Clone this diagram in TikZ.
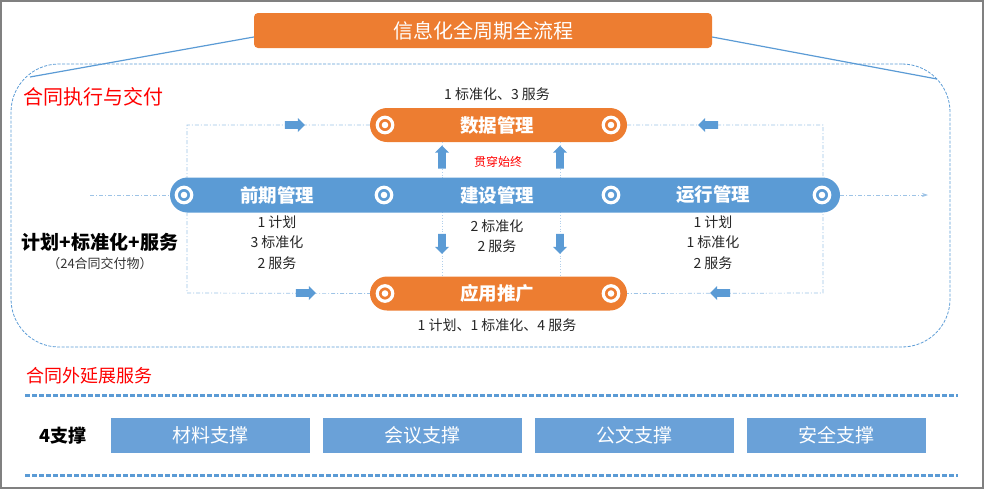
\documentclass[tikz,border=0pt]{standalone}
\usepackage{fontspec}
\setmainfont{Noto Sans CJK SC}
\usetikzlibrary{shapes.misc}
\usetikzlibrary{shapes.arrows}
\usetikzlibrary{positioning}
\usetikzlibrary{arrows.meta}
\definecolor{barblue}{HTML}{5B9BD5}
\definecolor{barorange}{HTML}{ED7D31}
\definecolor{boxblue}{HTML}{6AA1D8}
\definecolor{lineblue}{HTML}{9DC3E6}
\definecolor{framegray}{HTML}{808080}
\tikzset{
    titlebox/.style = {rectangle, rounded corners=4pt, fill=barorange, minimum width=458pt, minimum height=35pt, text=white, font=\fontsize{20}{24}\selectfont},
    bluebar/.style = {rounded rectangle, fill=barblue, minimum height=35pt, inner sep=0pt},
    orangebar/.style = {rounded rectangle, fill=barorange, minimum width=257pt, minimum height=34pt, inner sep=0pt},
    stage/.style = {text=white, font=\fontsize{18.5}{22}\selectfont\bfseries},
    ring/.style = {circle, draw=white, line width=3.2pt, minimum size=15.5pt, inner sep=0pt,
                   path picture={\fill[white] (path picture bounding box.center) circle (3.3pt);}},
    note/.style = {font=\fontsize{14}{20.5}\selectfont, text=black!85, align=center},
    redtitle/.style = {text=red, font=\fontsize{20}{24}\selectfont},
    contractframe/.style = {rectangle, rounded corners=48pt, draw=barblue, line width=0.8pt, dash pattern=on 3pt off 1.5pt},
    flow/.style = {draw=lineblue, line width=0.7pt, dash pattern=on 4pt off 2pt on 1pt off 2pt}, % loop
    thru/.style = {draw=lineblue!80, line width=0.7pt, dotted}, % between bars
    fatarrow/.style = {single arrow, fill=barblue, minimum height=20pt, inner xsep=0pt, inner ysep=3.6pt, single arrow head extend=3.2pt},
    vertarrow/.style = {single arrow, fill=barblue, minimum height=20pt, inner xsep=3.6pt, inner ysep=0pt, single arrow head extend=3.2pt},
    tie/.style = {draw=barblue, line width=1.2pt},
    lane/.style = {draw=barblue, line width=3pt, dash pattern=on 5pt off 2pt},
    supportbox/.style = {rectangle, fill=boxblue, minimum width=199pt, minimum height=35pt, text=white, font=\fontsize{19}{22}\selectfont}
}
\begin{document}
\begin{tikzpicture}[x=1pt,y=-1pt]
\useasboundingbox (0,0) rectangle (985,490);
\draw[framegray, line width=2.5pt] (1,1) rectangle (983,488);
%
\node[titlebox] (title) at (483,30.5) {信息化全周期全流程};
\node[contractframe, minimum width=939pt, minimum height=283pt] (contract) at (480.5,205.5) {};
\coordinate (tieL) at (30,77);
\coordinate (tieR) at (937,79);
\draw[tie] ([yshift=-6.5pt]title.west) -- (tieL);
\draw[tie] ([yshift=-6.5pt]title.east) -- (tieR);
\node[redtitle, anchor=west] (inside) at (20,97) {合同执行与交付};
%
\coordinate (inL) at (90,195);
\coordinate (outR) at (928,195);
\coordinate (loopTL) at (187,125);
\coordinate (loopBL) at (187,293);
\coordinate (loopTR) at (823,125);
\coordinate (loopBR) at (823,293);
\coordinate (colA) at (442,0);
\coordinate (colB) at (560,0);
%
\node[orangebar] (data) at (498.5,125) {};
\node[orangebar] (app) at (498.5,293.5) {};
\draw[flow] (data.west) -- (loopTL) -- (loopBL) -- (app.west);
\draw[flow] (data.east) -- (loopTR) -- (loopBR) -- (app.east);
\draw[thru] (colA |- data.south) -- (colA |- app.north);
\draw[thru] (colB |- data.south) -- (colB |- app.north);
\draw[flow] (inL) -- (170,195);
\node[bluebar, minimum width=670pt] (lifecycle) at (505,195) {};
\draw[flow, -{Stealth[length=6pt,width=4pt]}] (lifecycle.east) -- (outR);
%
\node[stage] (early) at (277,195) {前期管理};
\node[stage] (build) at (497,195) {建设管理};
\node[stage] (operate) at (713,195) {运行管理};
\node[stage] (datatxt) at (497,125) {数据管理};
\node[stage] (apptxt) at (497,293.5) {应用推广};
%
\node[ring] (r1) at (184,195) {};
\node[ring] (r2) at (384,195) {};
\node[ring] (r3) at (611,195) {};
\node[ring] (r4) at (822,195) {};
\node[ring] (r5) at (385,125) {};
\node[ring] (r6) at (611,125) {};
\node[ring] (r7) at (385,293.5) {};
\node[ring] (r8) at (611,293.5) {};
%
\node[fatarrow] (a1) at (293,125) {};
\node[fatarrow, shape border rotate=180] (a2) at (710,125) {};
\node[fatarrow] (a3) at (304,293) {};
\node[fatarrow, shape border rotate=180] (a4) at (722,293) {};
\node[vertarrow, shape border rotate=90, minimum height=23pt] (a5) at (442,159) {};
\node[vertarrow, shape border rotate=90, minimum height=23pt] (a6) at (560,159) {};
\node[vertarrow, shape border rotate=270] (a7) at (442,242) {};
\node[vertarrow, shape border rotate=270] (a8) at (560,242) {};
%
\node[note] (datanote) at (497,94) {1 标准化、3 服务};
\node[note] (appnote) at (497,325) {1 计划、1 标准化、4 服务};
\node[text=red, font=\fontsize{12}{14}\selectfont] (through) at (498,162) {贯穿始终};
\node[note] (earlynote) at (277,242.5) {1 计划\\3 标准化\\2 服务};
\node[note] (buildnote) at (497,236) {2 标准化\\2 服务};
\node[note] (operatenote) at (713,242.5) {1 计划\\1 标准化\\2 服务};
\node[font=\fontsize{19}{22}\selectfont\bfseries] (sum) at (100,242) {计划+标准化+服务};
\node[font=\fontsize{13}{15}\selectfont, text=black!80] (sumnote) at (100,264) {（24合同交付物）};
%
\node[redtitle, font=\fontsize{18}{22}\selectfont, anchor=west] (outside) at (23,376) {合同外延展服务};
\coordinate (lane1L) at (25,395);
\coordinate (lane1R) at (958,395);
\coordinate (lane2L) at (25,475);
\coordinate (lane2R) at (958,475);
\draw[lane] (lane1L) -- (lane1R);
\draw[lane] (lane2L) -- (lane2R);
\node[font=\fontsize{18}{22}\selectfont\bfseries] (four) at (63,436) {4支撑};
\node[supportbox] (s1) at (210.5,435.5) {材料支撑};
\node[supportbox, right=12.5pt of s1] (s2) {会议支撑};
\node[supportbox, right=12.5pt of s2] (s3) {公文支撑};
\node[supportbox, right=12.5pt of s3, minimum width=179pt] (s4) {安全支撑};

\end{tikzpicture}
\end{document}
